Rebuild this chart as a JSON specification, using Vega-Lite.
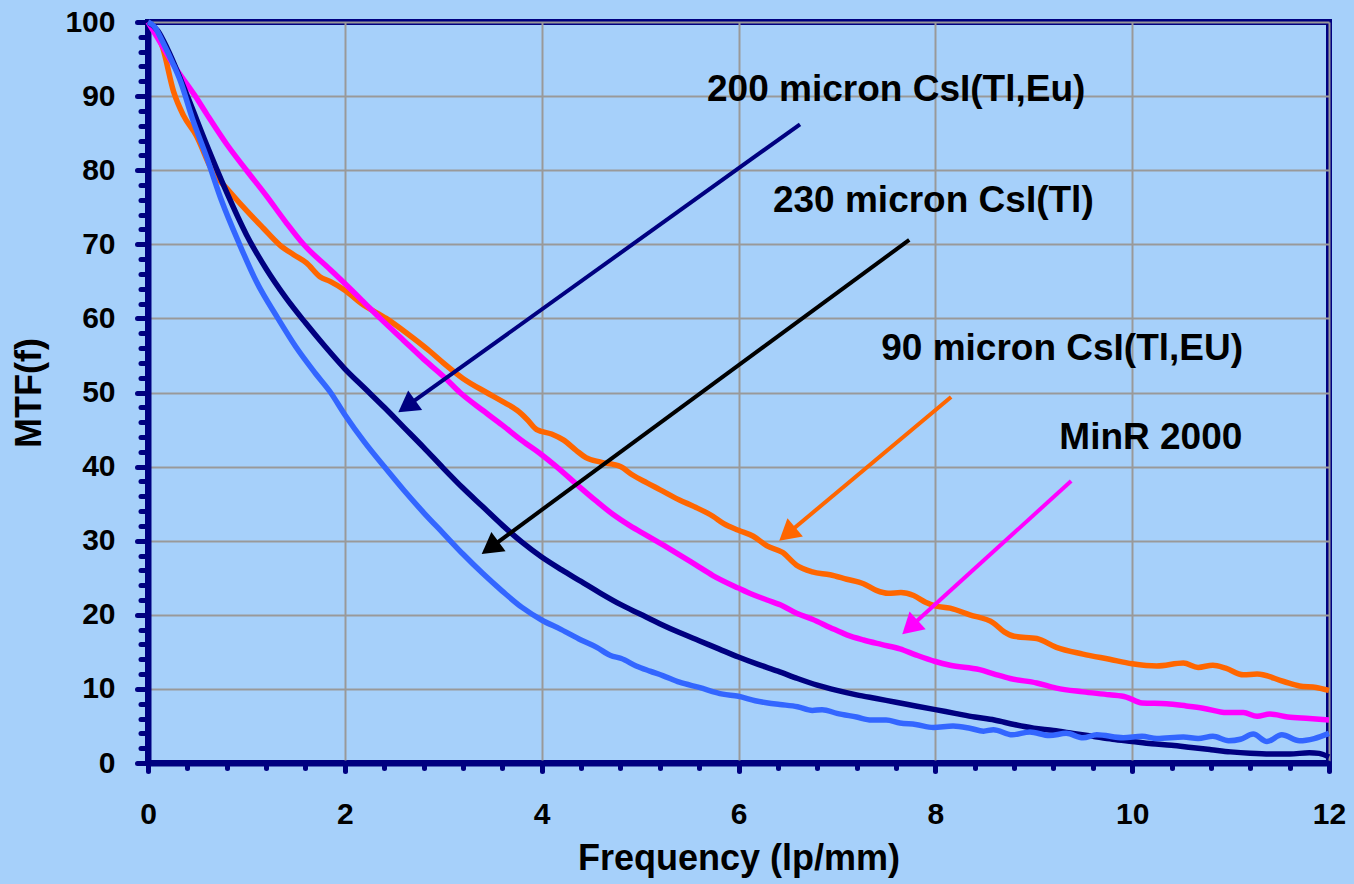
{
  "$schema": "https://vega.github.io/schema/vega-lite/v6.json",
  "width": 1181,
  "height": 741,
  "autosize": "none",
  "padding": {"left": 148, "top": 22, "right": 25, "bottom": 121},
  "background": "#A6D0FA",
  "config": {
    "view": {"stroke": "#000080", "strokeWidth": 6},
    "font": "Liberation Sans"
  },
  "datasets": {
    "curves": [
      {"series": "90 micron CsI(Tl,EU)", "freq": 0, "mtf": 100},
      {"series": "90 micron CsI(Tl,EU)", "freq": 0.07, "mtf": 99},
      {"series": "90 micron CsI(Tl,EU)", "freq": 0.15, "mtf": 96.5},
      {"series": "90 micron CsI(Tl,EU)", "freq": 0.26, "mtf": 90.6},
      {"series": "90 micron CsI(Tl,EU)", "freq": 0.36, "mtf": 87.4},
      {"series": "90 micron CsI(Tl,EU)", "freq": 0.49, "mtf": 84.7},
      {"series": "90 micron CsI(Tl,EU)", "freq": 0.65, "mtf": 80},
      {"series": "90 micron CsI(Tl,EU)", "freq": 0.83, "mtf": 77.1},
      {"series": "90 micron CsI(Tl,EU)", "freq": 1.04, "mtf": 74},
      {"series": "90 micron CsI(Tl,EU)", "freq": 1.17, "mtf": 72.2},
      {"series": "90 micron CsI(Tl,EU)", "freq": 1.34, "mtf": 69.9},
      {"series": "90 micron CsI(Tl,EU)", "freq": 1.48, "mtf": 68.6},
      {"series": "90 micron CsI(Tl,EU)", "freq": 1.61, "mtf": 67.5},
      {"series": "90 micron CsI(Tl,EU)", "freq": 1.75, "mtf": 65.6},
      {"series": "90 micron CsI(Tl,EU)", "freq": 1.85, "mtf": 65.0},
      {"series": "90 micron CsI(Tl,EU)", "freq": 2.0, "mtf": 63.8},
      {"series": "90 micron CsI(Tl,EU)", "freq": 2.19, "mtf": 61.8},
      {"series": "90 micron CsI(Tl,EU)", "freq": 2.42, "mtf": 60},
      {"series": "90 micron CsI(Tl,EU)", "freq": 2.63, "mtf": 58},
      {"series": "90 micron CsI(Tl,EU)", "freq": 2.87, "mtf": 55.5},
      {"series": "90 micron CsI(Tl,EU)", "freq": 3.0, "mtf": 54},
      {"series": "90 micron CsI(Tl,EU)", "freq": 3.2, "mtf": 51.9},
      {"series": "90 micron CsI(Tl,EU)", "freq": 3.44, "mtf": 50},
      {"series": "90 micron CsI(Tl,EU)", "freq": 3.6, "mtf": 48.8},
      {"series": "90 micron CsI(Tl,EU)", "freq": 3.75, "mtf": 47.6},
      {"series": "90 micron CsI(Tl,EU)", "freq": 3.85, "mtf": 46.4},
      {"series": "90 micron CsI(Tl,EU)", "freq": 3.95, "mtf": 45.0},
      {"series": "90 micron CsI(Tl,EU)", "freq": 4.1, "mtf": 44.4},
      {"series": "90 micron CsI(Tl,EU)", "freq": 4.22, "mtf": 43.6},
      {"series": "90 micron CsI(Tl,EU)", "freq": 4.35, "mtf": 42.2},
      {"series": "90 micron CsI(Tl,EU)", "freq": 4.45, "mtf": 41.2},
      {"series": "90 micron CsI(Tl,EU)", "freq": 4.6, "mtf": 40.6},
      {"series": "90 micron CsI(Tl,EU)", "freq": 4.8, "mtf": 40},
      {"series": "90 micron CsI(Tl,EU)", "freq": 4.92, "mtf": 38.9},
      {"series": "90 micron CsI(Tl,EU)", "freq": 5.07, "mtf": 37.8},
      {"series": "90 micron CsI(Tl,EU)", "freq": 5.2, "mtf": 36.9},
      {"series": "90 micron CsI(Tl,EU)", "freq": 5.4, "mtf": 35.5},
      {"series": "90 micron CsI(Tl,EU)", "freq": 5.55, "mtf": 34.6},
      {"series": "90 micron CsI(Tl,EU)", "freq": 5.74, "mtf": 33.3},
      {"series": "90 micron CsI(Tl,EU)", "freq": 5.85, "mtf": 32.3},
      {"series": "90 micron CsI(Tl,EU)", "freq": 6.0, "mtf": 31.4},
      {"series": "90 micron CsI(Tl,EU)", "freq": 6.15, "mtf": 30.6},
      {"series": "90 micron CsI(Tl,EU)", "freq": 6.29, "mtf": 29.3},
      {"series": "90 micron CsI(Tl,EU)", "freq": 6.45, "mtf": 28.4},
      {"series": "90 micron CsI(Tl,EU)", "freq": 6.59, "mtf": 26.7},
      {"series": "90 micron CsI(Tl,EU)", "freq": 6.75, "mtf": 25.8},
      {"series": "90 micron CsI(Tl,EU)", "freq": 6.93, "mtf": 25.4},
      {"series": "90 micron CsI(Tl,EU)", "freq": 7.1, "mtf": 24.8},
      {"series": "90 micron CsI(Tl,EU)", "freq": 7.27, "mtf": 24.2},
      {"series": "90 micron CsI(Tl,EU)", "freq": 7.4, "mtf": 23.3},
      {"series": "90 micron CsI(Tl,EU)", "freq": 7.52, "mtf": 22.9},
      {"series": "90 micron CsI(Tl,EU)", "freq": 7.65, "mtf": 23.0},
      {"series": "90 micron CsI(Tl,EU)", "freq": 7.78, "mtf": 22.6},
      {"series": "90 micron CsI(Tl,EU)", "freq": 7.9, "mtf": 21.7},
      {"series": "90 micron CsI(Tl,EU)", "freq": 8.0, "mtf": 21.2},
      {"series": "90 micron CsI(Tl,EU)", "freq": 8.15, "mtf": 20.9},
      {"series": "90 micron CsI(Tl,EU)", "freq": 8.35, "mtf": 20},
      {"series": "90 micron CsI(Tl,EU)", "freq": 8.59, "mtf": 18.9},
      {"series": "90 micron CsI(Tl,EU)", "freq": 8.7, "mtf": 17.7},
      {"series": "90 micron CsI(Tl,EU)", "freq": 8.8, "mtf": 17.1},
      {"series": "90 micron CsI(Tl,EU)", "freq": 9.03, "mtf": 16.8},
      {"series": "90 micron CsI(Tl,EU)", "freq": 9.23, "mtf": 15.6},
      {"series": "90 micron CsI(Tl,EU)", "freq": 9.5, "mtf": 14.7},
      {"series": "90 micron CsI(Tl,EU)", "freq": 9.77, "mtf": 14},
      {"series": "90 micron CsI(Tl,EU)", "freq": 10, "mtf": 13.4},
      {"series": "90 micron CsI(Tl,EU)", "freq": 10.25, "mtf": 13.1},
      {"series": "90 micron CsI(Tl,EU)", "freq": 10.52, "mtf": 13.5},
      {"series": "90 micron CsI(Tl,EU)", "freq": 10.67, "mtf": 12.9},
      {"series": "90 micron CsI(Tl,EU)", "freq": 10.82, "mtf": 13.2},
      {"series": "90 micron CsI(Tl,EU)", "freq": 10.95, "mtf": 12.8},
      {"series": "90 micron CsI(Tl,EU)", "freq": 11.13, "mtf": 11.9},
      {"series": "90 micron CsI(Tl,EU)", "freq": 11.27, "mtf": 12},
      {"series": "90 micron CsI(Tl,EU)", "freq": 11.54, "mtf": 11},
      {"series": "90 micron CsI(Tl,EU)", "freq": 11.7, "mtf": 10.4},
      {"series": "90 micron CsI(Tl,EU)", "freq": 11.87, "mtf": 10.2},
      {"series": "90 micron CsI(Tl,EU)", "freq": 12, "mtf": 9.8},

      {"series": "MinR 2000", "freq": 0, "mtf": 100},
      {"series": "MinR 2000", "freq": 0.1, "mtf": 97.8},
      {"series": "MinR 2000", "freq": 0.26, "mtf": 94.2},
      {"series": "MinR 2000", "freq": 0.48, "mtf": 90},
      {"series": "MinR 2000", "freq": 0.6, "mtf": 87.5},
      {"series": "MinR 2000", "freq": 0.8, "mtf": 83.5},
      {"series": "MinR 2000", "freq": 1.0, "mtf": 80},
      {"series": "MinR 2000", "freq": 1.2, "mtf": 76.6},
      {"series": "MinR 2000", "freq": 1.4, "mtf": 73},
      {"series": "MinR 2000", "freq": 1.58, "mtf": 70},
      {"series": "MinR 2000", "freq": 1.85, "mtf": 66.6},
      {"series": "MinR 2000", "freq": 2.0, "mtf": 64.7},
      {"series": "MinR 2000", "freq": 2.2, "mtf": 62.1},
      {"series": "MinR 2000", "freq": 2.36, "mtf": 60},
      {"series": "MinR 2000", "freq": 2.6, "mtf": 57},
      {"series": "MinR 2000", "freq": 2.8, "mtf": 54.5},
      {"series": "MinR 2000", "freq": 3.0, "mtf": 52.2},
      {"series": "MinR 2000", "freq": 3.17, "mtf": 50},
      {"series": "MinR 2000", "freq": 3.4, "mtf": 47.6},
      {"series": "MinR 2000", "freq": 3.6, "mtf": 45.6},
      {"series": "MinR 2000", "freq": 3.8, "mtf": 43.5},
      {"series": "MinR 2000", "freq": 4.0, "mtf": 41.6},
      {"series": "MinR 2000", "freq": 4.15, "mtf": 40},
      {"series": "MinR 2000", "freq": 4.39, "mtf": 37.2},
      {"series": "MinR 2000", "freq": 4.55, "mtf": 35.4},
      {"series": "MinR 2000", "freq": 4.73, "mtf": 33.5},
      {"series": "MinR 2000", "freq": 4.9, "mtf": 32},
      {"series": "MinR 2000", "freq": 5.07, "mtf": 30.7},
      {"series": "MinR 2000", "freq": 5.25, "mtf": 29.3},
      {"series": "MinR 2000", "freq": 5.4, "mtf": 28.1},
      {"series": "MinR 2000", "freq": 5.57, "mtf": 26.7},
      {"series": "MinR 2000", "freq": 5.74, "mtf": 25.3},
      {"series": "MinR 2000", "freq": 6.0, "mtf": 23.6},
      {"series": "MinR 2000", "freq": 6.15, "mtf": 22.7},
      {"series": "MinR 2000", "freq": 6.29, "mtf": 22},
      {"series": "MinR 2000", "freq": 6.45, "mtf": 21.2},
      {"series": "MinR 2000", "freq": 6.59, "mtf": 20.2},
      {"series": "MinR 2000", "freq": 6.75, "mtf": 19.4},
      {"series": "MinR 2000", "freq": 6.93, "mtf": 18.3},
      {"series": "MinR 2000", "freq": 7.1, "mtf": 17.3},
      {"series": "MinR 2000", "freq": 7.27, "mtf": 16.6},
      {"series": "MinR 2000", "freq": 7.45, "mtf": 16.0},
      {"series": "MinR 2000", "freq": 7.64, "mtf": 15.4},
      {"series": "MinR 2000", "freq": 7.8, "mtf": 14.6},
      {"series": "MinR 2000", "freq": 8.0, "mtf": 13.7},
      {"series": "MinR 2000", "freq": 8.15, "mtf": 13.2},
      {"series": "MinR 2000", "freq": 8.45, "mtf": 12.6},
      {"series": "MinR 2000", "freq": 8.6, "mtf": 12.0},
      {"series": "MinR 2000", "freq": 8.76, "mtf": 11.4},
      {"series": "MinR 2000", "freq": 9.03, "mtf": 10.8},
      {"series": "MinR 2000", "freq": 9.23, "mtf": 10.1},
      {"series": "MinR 2000", "freq": 9.5, "mtf": 9.6},
      {"series": "MinR 2000", "freq": 9.77, "mtf": 9.2},
      {"series": "MinR 2000", "freq": 9.94, "mtf": 8.9},
      {"series": "MinR 2000", "freq": 10.1, "mtf": 8.1},
      {"series": "MinR 2000", "freq": 10.35, "mtf": 8.0},
      {"series": "MinR 2000", "freq": 10.55, "mtf": 7.7},
      {"series": "MinR 2000", "freq": 10.72, "mtf": 7.4},
      {"series": "MinR 2000", "freq": 10.96, "mtf": 6.8},
      {"series": "MinR 2000", "freq": 11.13, "mtf": 6.8},
      {"series": "MinR 2000", "freq": 11.27, "mtf": 6.3},
      {"series": "MinR 2000", "freq": 11.4, "mtf": 6.6},
      {"series": "MinR 2000", "freq": 11.58, "mtf": 6.2},
      {"series": "MinR 2000", "freq": 11.8, "mtf": 6.0},
      {"series": "MinR 2000", "freq": 12, "mtf": 5.8},

      {"series": "200 micron CsI(Tl,Eu)", "freq": 0, "mtf": 100},
      {"series": "200 micron CsI(Tl,Eu)", "freq": 0.1, "mtf": 98.8},
      {"series": "200 micron CsI(Tl,Eu)", "freq": 0.2, "mtf": 96.3},
      {"series": "200 micron CsI(Tl,Eu)", "freq": 0.4, "mtf": 90},
      {"series": "200 micron CsI(Tl,Eu)", "freq": 0.6, "mtf": 83.3},
      {"series": "200 micron CsI(Tl,Eu)", "freq": 0.8, "mtf": 77},
      {"series": "200 micron CsI(Tl,Eu)", "freq": 1.0, "mtf": 71.3},
      {"series": "200 micron CsI(Tl,Eu)", "freq": 1.2, "mtf": 66.7},
      {"series": "200 micron CsI(Tl,Eu)", "freq": 1.4, "mtf": 62.8},
      {"series": "200 micron CsI(Tl,Eu)", "freq": 1.6, "mtf": 59.4},
      {"series": "200 micron CsI(Tl,Eu)", "freq": 1.8, "mtf": 56.2},
      {"series": "200 micron CsI(Tl,Eu)", "freq": 2.0, "mtf": 53.2},
      {"series": "200 micron CsI(Tl,Eu)", "freq": 2.2, "mtf": 50.6},
      {"series": "200 micron CsI(Tl,Eu)", "freq": 2.4, "mtf": 48.0},
      {"series": "200 micron CsI(Tl,Eu)", "freq": 2.6, "mtf": 45.3},
      {"series": "200 micron CsI(Tl,Eu)", "freq": 2.8, "mtf": 42.6},
      {"series": "200 micron CsI(Tl,Eu)", "freq": 3.0, "mtf": 39.8},
      {"series": "200 micron CsI(Tl,Eu)", "freq": 3.2, "mtf": 37.1},
      {"series": "200 micron CsI(Tl,Eu)", "freq": 3.4, "mtf": 34.6},
      {"series": "200 micron CsI(Tl,Eu)", "freq": 3.6, "mtf": 32.1},
      {"series": "200 micron CsI(Tl,Eu)", "freq": 3.8, "mtf": 29.8},
      {"series": "200 micron CsI(Tl,Eu)", "freq": 4.0, "mtf": 27.8},
      {"series": "200 micron CsI(Tl,Eu)", "freq": 4.2, "mtf": 26.1},
      {"series": "200 micron CsI(Tl,Eu)", "freq": 4.4, "mtf": 24.5},
      {"series": "200 micron CsI(Tl,Eu)", "freq": 4.6, "mtf": 22.9},
      {"series": "200 micron CsI(Tl,Eu)", "freq": 4.8, "mtf": 21.4},
      {"series": "200 micron CsI(Tl,Eu)", "freq": 5.0, "mtf": 20.1},
      {"series": "200 micron CsI(Tl,Eu)", "freq": 5.2, "mtf": 18.8},
      {"series": "200 micron CsI(Tl,Eu)", "freq": 5.4, "mtf": 17.6},
      {"series": "200 micron CsI(Tl,Eu)", "freq": 5.6, "mtf": 16.5},
      {"series": "200 micron CsI(Tl,Eu)", "freq": 5.8, "mtf": 15.4},
      {"series": "200 micron CsI(Tl,Eu)", "freq": 6.0, "mtf": 14.3},
      {"series": "200 micron CsI(Tl,Eu)", "freq": 6.2, "mtf": 13.3},
      {"series": "200 micron CsI(Tl,Eu)", "freq": 6.4, "mtf": 12.4},
      {"series": "200 micron CsI(Tl,Eu)", "freq": 6.6, "mtf": 11.4},
      {"series": "200 micron CsI(Tl,Eu)", "freq": 6.8, "mtf": 10.5},
      {"series": "200 micron CsI(Tl,Eu)", "freq": 7.0, "mtf": 9.8},
      {"series": "200 micron CsI(Tl,Eu)", "freq": 7.2, "mtf": 9.2},
      {"series": "200 micron CsI(Tl,Eu)", "freq": 7.4, "mtf": 8.7},
      {"series": "200 micron CsI(Tl,Eu)", "freq": 7.6, "mtf": 8.2},
      {"series": "200 micron CsI(Tl,Eu)", "freq": 7.8, "mtf": 7.7},
      {"series": "200 micron CsI(Tl,Eu)", "freq": 8.0, "mtf": 7.2},
      {"series": "200 micron CsI(Tl,Eu)", "freq": 8.2, "mtf": 6.7},
      {"series": "200 micron CsI(Tl,Eu)", "freq": 8.4, "mtf": 6.2},
      {"series": "200 micron CsI(Tl,Eu)", "freq": 8.6, "mtf": 5.8},
      {"series": "200 micron CsI(Tl,Eu)", "freq": 8.8, "mtf": 5.2},
      {"series": "200 micron CsI(Tl,Eu)", "freq": 9.0, "mtf": 4.7},
      {"series": "200 micron CsI(Tl,Eu)", "freq": 9.2, "mtf": 4.4},
      {"series": "200 micron CsI(Tl,Eu)", "freq": 9.4, "mtf": 4.0},
      {"series": "200 micron CsI(Tl,Eu)", "freq": 9.6, "mtf": 3.6},
      {"series": "200 micron CsI(Tl,Eu)", "freq": 9.8, "mtf": 3.2},
      {"series": "200 micron CsI(Tl,Eu)", "freq": 10.0, "mtf": 2.9},
      {"series": "200 micron CsI(Tl,Eu)", "freq": 10.2, "mtf": 2.6},
      {"series": "200 micron CsI(Tl,Eu)", "freq": 10.4, "mtf": 2.4},
      {"series": "200 micron CsI(Tl,Eu)", "freq": 10.6, "mtf": 2.1},
      {"series": "200 micron CsI(Tl,Eu)", "freq": 10.8, "mtf": 1.8},
      {"series": "200 micron CsI(Tl,Eu)", "freq": 11.0, "mtf": 1.5},
      {"series": "200 micron CsI(Tl,Eu)", "freq": 11.2, "mtf": 1.3},
      {"series": "200 micron CsI(Tl,Eu)", "freq": 11.4, "mtf": 1.2},
      {"series": "200 micron CsI(Tl,Eu)", "freq": 11.6, "mtf": 1.2},
      {"series": "200 micron CsI(Tl,Eu)", "freq": 11.8, "mtf": 1.4},
      {"series": "200 micron CsI(Tl,Eu)", "freq": 11.9, "mtf": 1.3},
      {"series": "200 micron CsI(Tl,Eu)", "freq": 12, "mtf": 0.8},

      {"series": "230 micron CsI(Tl)", "freq": 0, "mtf": 100},
      {"series": "230 micron CsI(Tl)", "freq": 0.07, "mtf": 99.3},
      {"series": "230 micron CsI(Tl)", "freq": 0.15, "mtf": 97.3},
      {"series": "230 micron CsI(Tl)", "freq": 0.25, "mtf": 94.5},
      {"series": "230 micron CsI(Tl)", "freq": 0.33, "mtf": 92},
      {"series": "230 micron CsI(Tl)", "freq": 0.45, "mtf": 87},
      {"series": "230 micron CsI(Tl)", "freq": 0.6, "mtf": 81.6},
      {"series": "230 micron CsI(Tl)", "freq": 0.75, "mtf": 75.8},
      {"series": "230 micron CsI(Tl)", "freq": 0.93, "mtf": 70},
      {"series": "230 micron CsI(Tl)", "freq": 1.1, "mtf": 65},
      {"series": "230 micron CsI(Tl)", "freq": 1.32, "mtf": 60},
      {"series": "230 micron CsI(Tl)", "freq": 1.5, "mtf": 56.2},
      {"series": "230 micron CsI(Tl)", "freq": 1.7, "mtf": 52.6},
      {"series": "230 micron CsI(Tl)", "freq": 1.85, "mtf": 50.1},
      {"series": "230 micron CsI(Tl)", "freq": 2.0, "mtf": 47.0},
      {"series": "230 micron CsI(Tl)", "freq": 2.2, "mtf": 43.3},
      {"series": "230 micron CsI(Tl)", "freq": 2.4, "mtf": 40},
      {"series": "230 micron CsI(Tl)", "freq": 2.6, "mtf": 36.8},
      {"series": "230 micron CsI(Tl)", "freq": 2.8, "mtf": 33.8},
      {"series": "230 micron CsI(Tl)", "freq": 3.0, "mtf": 31},
      {"series": "230 micron CsI(Tl)", "freq": 3.2, "mtf": 28.2},
      {"series": "230 micron CsI(Tl)", "freq": 3.4, "mtf": 25.6},
      {"series": "230 micron CsI(Tl)", "freq": 3.6, "mtf": 23.2},
      {"series": "230 micron CsI(Tl)", "freq": 3.8, "mtf": 21.0},
      {"series": "230 micron CsI(Tl)", "freq": 4.0, "mtf": 19.3},
      {"series": "230 micron CsI(Tl)", "freq": 4.2, "mtf": 18.0},
      {"series": "230 micron CsI(Tl)", "freq": 4.4, "mtf": 16.6},
      {"series": "230 micron CsI(Tl)", "freq": 4.56, "mtf": 15.6},
      {"series": "230 micron CsI(Tl)", "freq": 4.7, "mtf": 14.5},
      {"series": "230 micron CsI(Tl)", "freq": 4.81, "mtf": 14.1},
      {"series": "230 micron CsI(Tl)", "freq": 4.96, "mtf": 13.1},
      {"series": "230 micron CsI(Tl)", "freq": 5.1, "mtf": 12.4},
      {"series": "230 micron CsI(Tl)", "freq": 5.23, "mtf": 11.8},
      {"series": "230 micron CsI(Tl)", "freq": 5.4, "mtf": 10.9},
      {"series": "230 micron CsI(Tl)", "freq": 5.6, "mtf": 10.2},
      {"series": "230 micron CsI(Tl)", "freq": 5.84, "mtf": 9.3},
      {"series": "230 micron CsI(Tl)", "freq": 6.0, "mtf": 9.0},
      {"series": "230 micron CsI(Tl)", "freq": 6.17, "mtf": 8.4},
      {"series": "230 micron CsI(Tl)", "freq": 6.3, "mtf": 8.1},
      {"series": "230 micron CsI(Tl)", "freq": 6.42, "mtf": 7.9},
      {"series": "230 micron CsI(Tl)", "freq": 6.6, "mtf": 7.6},
      {"series": "230 micron CsI(Tl)", "freq": 6.75, "mtf": 7.1},
      {"series": "230 micron CsI(Tl)", "freq": 6.85, "mtf": 7.2},
      {"series": "230 micron CsI(Tl)", "freq": 7.0, "mtf": 6.7},
      {"series": "230 micron CsI(Tl)", "freq": 7.2, "mtf": 6.2},
      {"series": "230 micron CsI(Tl)", "freq": 7.35, "mtf": 5.8},
      {"series": "230 micron CsI(Tl)", "freq": 7.5, "mtf": 5.8},
      {"series": "230 micron CsI(Tl)", "freq": 7.64, "mtf": 5.4},
      {"series": "230 micron CsI(Tl)", "freq": 7.8, "mtf": 5.2},
      {"series": "230 micron CsI(Tl)", "freq": 7.98, "mtf": 4.8},
      {"series": "230 micron CsI(Tl)", "freq": 8.18, "mtf": 5.0},
      {"series": "230 micron CsI(Tl)", "freq": 8.35, "mtf": 4.7},
      {"series": "230 micron CsI(Tl)", "freq": 8.49, "mtf": 4.3},
      {"series": "230 micron CsI(Tl)", "freq": 8.59, "mtf": 4.5},
      {"series": "230 micron CsI(Tl)", "freq": 8.78, "mtf": 3.8},
      {"series": "230 micron CsI(Tl)", "freq": 8.96, "mtf": 4.2},
      {"series": "230 micron CsI(Tl)", "freq": 9.16, "mtf": 3.7},
      {"series": "230 micron CsI(Tl)", "freq": 9.33, "mtf": 4.0},
      {"series": "230 micron CsI(Tl)", "freq": 9.5, "mtf": 3.4},
      {"series": "230 micron CsI(Tl)", "freq": 9.64, "mtf": 3.8},
      {"series": "230 micron CsI(Tl)", "freq": 9.91, "mtf": 3.4},
      {"series": "230 micron CsI(Tl)", "freq": 10.1, "mtf": 3.6},
      {"series": "230 micron CsI(Tl)", "freq": 10.25, "mtf": 3.3},
      {"series": "230 micron CsI(Tl)", "freq": 10.52, "mtf": 3.5},
      {"series": "230 micron CsI(Tl)", "freq": 10.67, "mtf": 3.3},
      {"series": "230 micron CsI(Tl)", "freq": 10.82, "mtf": 3.6},
      {"series": "230 micron CsI(Tl)", "freq": 10.98, "mtf": 3.0},
      {"series": "230 micron CsI(Tl)", "freq": 11.1, "mtf": 3.2},
      {"series": "230 micron CsI(Tl)", "freq": 11.23, "mtf": 3.9},
      {"series": "230 micron CsI(Tl)", "freq": 11.37, "mtf": 2.9},
      {"series": "230 micron CsI(Tl)", "freq": 11.52, "mtf": 3.8},
      {"series": "230 micron CsI(Tl)", "freq": 11.7, "mtf": 3.0},
      {"series": "230 micron CsI(Tl)", "freq": 11.85, "mtf": 3.3},
      {"series": "230 micron CsI(Tl)", "freq": 12, "mtf": 4.0}
    ],
    "arrows": [
      {"arrow": "200 micron CsI(Tl,Eu)", "freq": 2.629, "mtf": 48.15, "freq2": 6.625, "mtf2": 86.2},
      {"arrow": "230 micron CsI(Tl)", "freq": 3.476, "mtf": 29.04, "freq2": 7.735, "mtf2": 70.6},
      {"arrow": "90 micron CsI(Tl,EU)", "freq": 6.495, "mtf": 30.9, "freq2": 8.16, "mtf2": 49.4},
      {"arrow": "MinR 2000", "freq": 7.742, "mtf": 18.31, "freq2": 9.38, "mtf2": 38.05}
    ],
    "notes": [
      {"label": "200 micron CsI(Tl,Eu)", "freq": 5.68, "mtf": 89.4},
      {"label": "230 micron CsI(Tl)", "freq": 6.35, "mtf": 74.4},
      {"label": "90 micron CsI(Tl,EU)", "freq": 7.45, "mtf": 54.4},
      {"label": "MinR 2000", "freq": 9.26, "mtf": 42.4}
    ]
  },
  "encoding": {
    "x": {
      "field": "freq", "type": "quantitative",
      "title": "Frequency (lp/mm)",
      "scale": {"domain": [0, 12], "nice": false, "zero": false},
      "axis": {
        "values": [0,0.4,0.8,1.2,1.6,2,2.4,2.8,3.2,3.6,4,4.4,4.8,5.2,5.6,6,6.4,6.8,7.2,7.6,8,8.4,8.8,9.2,9.6,10,10.4,10.8,11.2,11.6,12],
        "labelExpr": "datum.value % 2 === 0 ? format(datum.value, 'd') : ''",
        "labelOverlap": false, "labelFlush": false, "labelBound": false,
        "grid": true, "gridColor": "#999999", "gridWidth": 2,
        "gridOpacity": {"condition": {"test": "datum.value % 2 === 0", "value": 1}, "value": 0},
        "tickSize": {"condition": {"test": "datum.value % 2 === 0", "value": 8}, "value": 5},
        "tickColor": "#000080", "tickWidth": 5, "tickCap": "round",
        "domainColor": "#000080", "domainWidth": 6,
        "labelFont": "Liberation Sans", "labelFontSize": 30, "labelFontWeight": "bold", "labelColor": "#000000",
        "labelPadding": 28,
        "titleFont": "Liberation Sans", "titleFontSize": 36, "titleFontWeight": "bold", "titleColor": "#000000",
        "titlePadding": 12
      }
    },
    "y": {
      "field": "mtf", "type": "quantitative",
      "title": "MTF(f)",
      "scale": {"domain": [0, 100], "nice": false},
      "axis": {
        "values": [0,2,4,6,8,10,12,14,16,18,20,22,24,26,28,30,32,34,36,38,40,42,44,46,48,50,52,54,56,58,60,62,64,66,68,70,72,74,76,78,80,82,84,86,88,90,92,94,96,98,100],
        "labelExpr": "datum.value % 10 === 0 ? format(datum.value, 'd') : ''",
        "labelOverlap": false, "labelFlush": false, "labelBound": false,
        "grid": true, "gridColor": "#999999", "gridWidth": 2,
        "gridOpacity": {"condition": {"test": "datum.value % 10 === 0", "value": 1}, "value": 0},
        "tickSize": {"condition": {"test": "datum.value % 10 === 0", "value": 11}, "value": 7.5},
        "tickColor": "#000080", "tickWidth": 5, "tickCap": "round",
        "domainColor": "#000080", "domainWidth": 6,
        "labelFont": "Liberation Sans", "labelFontSize": 30, "labelFontWeight": "bold", "labelColor": "#000000",
        "labelPadding": 22,
        "titleFont": "Liberation Sans", "titleFontSize": 36, "titleFontWeight": "bold", "titleColor": "#000000",
        "titlePadding": 16
      }
    }
  },
  "resolve": {"scale": {"color": "independent"}},
  "layer": [
    {
      "data": {"name": "curves"},
      "mark": {"type": "line", "strokeWidth": 5.5, "interpolate": "monotone"},
      "encoding": {
        "color": {
          "field": "series", "type": "nominal",
          "scale": {"domain": ["90 micron CsI(Tl,EU)", "MinR 2000", "200 micron CsI(Tl,Eu)", "230 micron CsI(Tl)"],
                    "range": ["#FF6600", "#FF00FF", "#000080", "#3366FF"]},
          "legend": null
        }
      }
    },
    {
      "data": {"name": "arrows"},
      "mark": {"type": "rule", "strokeWidth": 4},
      "encoding": {
        "x2": {"field": "freq2"},
        "y2": {"field": "mtf2"},
        "color": {
          "field": "arrow", "type": "nominal",
          "scale": {"domain": ["200 micron CsI(Tl,Eu)", "230 micron CsI(Tl)", "90 micron CsI(Tl,EU)", "MinR 2000"],
                    "range": ["#000080", "#000000", "#FF6600", "#FF00FF"]},
          "legend": null
        }
      }
    },
    {
      "data": {"name": "arrows"},
      "mark": {"type": "point", "shape": "triangle-up", "filled": true, "size": 576, "opacity": 1, "strokeWidth": 0},
      "encoding": {
        "color": {
          "field": "arrow", "type": "nominal",
          "scale": {"domain": ["200 micron CsI(Tl,Eu)", "230 micron CsI(Tl)", "90 micron CsI(Tl,EU)", "MinR 2000"],
                    "range": ["#000080", "#000000", "#FF6600", "#FF00FF"]},
          "legend": null
        },
        "angle": {
          "field": "arrow", "type": "nominal",
          "scale": {"type": "ordinal", "domain": ["200 micron CsI(Tl,Eu)", "230 micron CsI(Tl)", "90 micron CsI(Tl,EU)", "MinR 2000"],
                    "range": [234.3, 233.7, 230.0, 227.7]},
          "legend": null
        }
      }
    },
    {
      "data": {"name": "notes"},
      "mark": {"type": "text", "align": "left", "baseline": "alphabetic", "font": "Liberation Sans", "fontSize": 37, "fontWeight": "bold", "color": "#000000"},
      "encoding": {
        "text": {"field": "label"}
      }
    }
  ]
}
